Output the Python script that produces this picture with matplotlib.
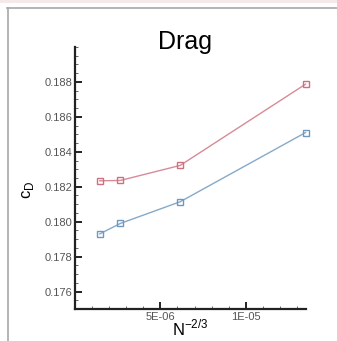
import matplotlib.pyplot as plt
from matplotlib.ticker import MultipleLocator, FixedLocator
from matplotlib.lines import Line2D
from matplotlib.patches import Rectangle

plt.rcParams['font.family'] = ['Liberation Sans', 'DejaVu Sans']

# grid resolution measure N^-2/3
x_vals = [1.45e-6, 2.66e-6, 6.16e-6, 13.5e-6]
cd_red = [0.18234, 0.18236, 0.18322, 0.18787]
cd_blue = [0.17930, 0.17990, 0.18114, 0.18510]

x_ticks = [5e-6, 1e-5]
x_ticklabels = ['5E-06', '1E-05']
y_ticks = [0.176, 0.178, 0.180, 0.182, 0.184, 0.186, 0.188]
y_ticklabels = ['0.176', '0.178', '0.180', '0.182', '0.184', '0.186', '0.188']

fig = plt.figure(figsize=(3.37, 3.41), dpi=100)
fig.patch.set_facecolor('white')

# frame around the panel
fig.add_artist(Rectangle((0, 1 - 3 / 341), 1, 3 / 341, transform=fig.transFigure,
                         color='#f6e9e9', lw=0))
fig.add_artist(Line2D([7 / 337, 1], [1 - 7.5 / 341] * 2, transform=fig.transFigure,
                      color='#a8a8a8', lw=1.2))
fig.add_artist(Line2D([7.5 / 337] * 2, [0, 1 - 7.5 / 341], transform=fig.transFigure,
                      color='#a8a8a8', lw=1.2))

ax = fig.add_axes([75 / 337, 1 - 309 / 341, 230.5 / 337, 262 / 341])
ax.plot(x_vals, cd_red, color='#d68b98', lw=1.0, marker='s', ms=5,
        mfc='none', mec='#d0707f', mew=1.0, clip_on=False)
ax.plot(x_vals, cd_blue, color='#86a9c9', lw=1.0, marker='s', ms=5,
        mfc='none', mec='#6f98bf', mew=1.0, clip_on=False)

ax.set_xlim(0, 13.5e-6)
ax.set_ylim(0.175, 0.190)
ax.set_xticks(x_ticks)
ax.set_xticklabels(x_ticklabels)
ax.xaxis.set_minor_locator(MultipleLocator(1e-6))
ax.yaxis.set_major_locator(FixedLocator(y_ticks))
ax.set_yticklabels(y_ticklabels)
ax.yaxis.set_minor_locator(MultipleLocator(0.0005))

for s in ['top', 'right']:
    ax.spines[s].set_visible(False)
for s in ['left', 'bottom']:
    ax.spines[s].set_linewidth(1.6)
    ax.spines[s].set_color('#222222')

ax.tick_params(which='major', direction='in', length=5, width=1.4, color='#222222',
               labelsize=8, labelcolor='#555555', pad=2)
ax.tick_params(which='minor', direction='in', length=2.5, width=0.7, color='#666666')
ax.patch.set_alpha(0)

fig.text(185 / 337, 1 - 42 / 341, 'Drag', fontsize=18, ha='center', va='center')
fig.text(28 / 337, 1 - 190 / 341, r'c$_\mathregular{D}$', fontsize=12, rotation=90,
         ha='center', va='center')
fig.text(190 / 337, 1 - 328 / 341, r'N$^\mathregular{-2/3}$', fontsize=12,
         ha='center', va='center')

fig.savefig('out.png', dpi=100)
